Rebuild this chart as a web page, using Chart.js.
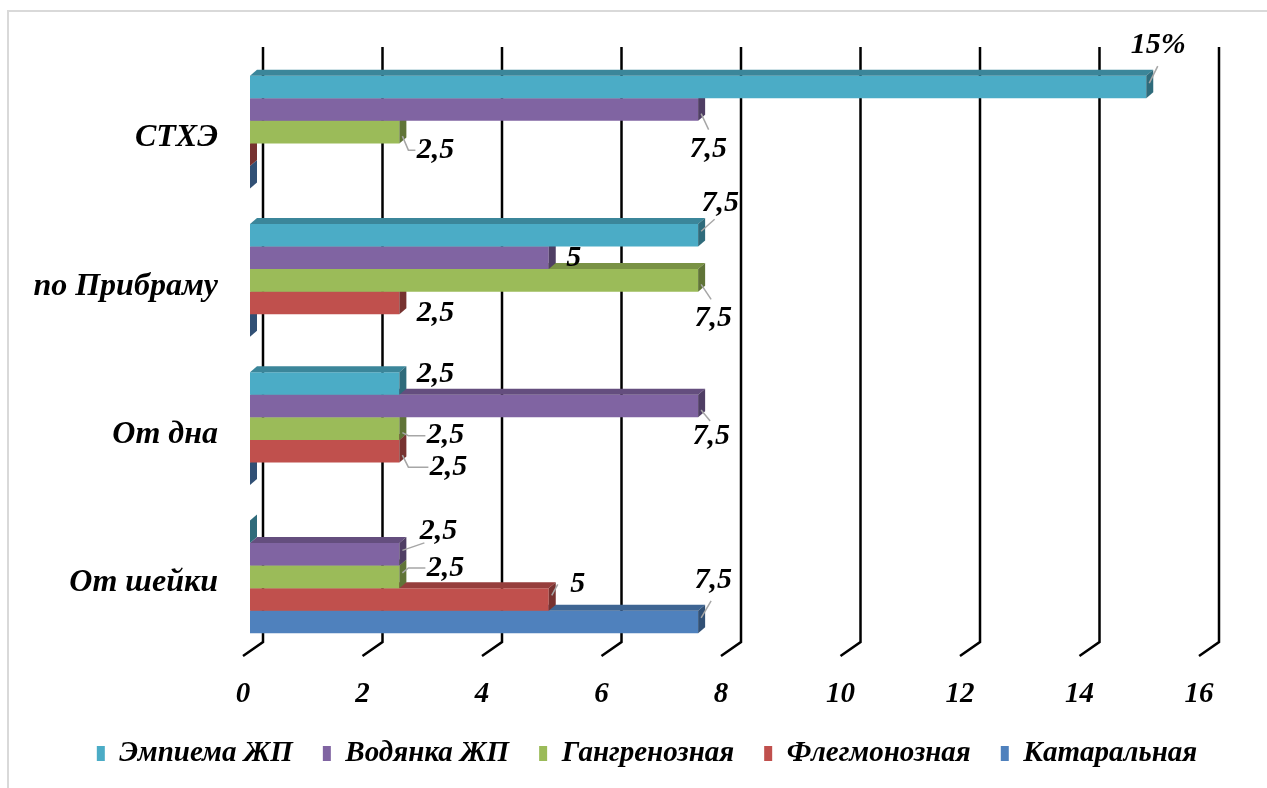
<!DOCTYPE html>
<html>
<head>
<meta charset="utf-8">
<script src="https://cdn.jsdelivr.net/npm/chart.js@4/dist/chart.umd.min.js"></script>
<style>
  html, body { margin: 0; padding: 0; background: #fff; }
  #wrap { width: 1267px; height: 788px; }
</style>
</head>
<body>
<div id="wrap"><canvas id="grafico"></canvas></div>
<script>
// datos del gráfico
var categorias = ["СТХЭ", "по Прибраму", "От дна", "От шейки"];
var series = ["Эмпиема ЖП", "Водянка ЖП", "Гангренозная", "Флегмонозная", "Катаральная"];
var empiema    = [15, 7.5, 2.5, 0];
var vodyanka   = [7.5, 5, 7.5, 2.5];
var gangrena   = [2.5, 7.5, 2.5, 2.5];
var flegmona   = [0, 2.5, 2.5, 5];
var kataralnaya = [0, 0, 0, 7.5];
var ticksX = [0, 2, 4, 6, 8, 10, 12, 14, 16];

var colores = ["#4BACC6", "#8064A2", "#9BBB59", "#C0504D", "#4F81BD"];

// donde va cada etiqueta respecto al final de la barra (dx, dy), null = sin etiqueta
var posEtiquetas = [
  [[9, -42], [19, -32], [33, -9], null],
  [[7, 40], [22, 0], [10, 30], [36, -23]],
  [[33, 18], [12, 38], [43, 7], [43, -9]],
  [null, [33, 10], [46, 16], [26, -15]],
  [null, null, null, [12, -42]]
];

var FUENTE = "'Liberation Serif', 'Times New Roman', serif";
var DX = 7, DY = 6; // profundidad de las barras

function oscurecer(hex, f) {
  var n = parseInt(hex.slice(1), 16);
  var r = Math.round(((n >> 16) & 255) * f);
  var g = Math.round(((n >> 8) & 255) * f);
  var b = Math.round((n & 255) * f);
  return "rgb(" + r + "," + g + "," + b + ")";
}

// marco gris y lineas de la rejilla con perspectiva
var fondo = {
  id: "fondo",
  afterLayout: function(chart) {
    // la leyenda va un poco a la derecha, como en el original
    chart.legend.left += 44;
    chart.legend.right += 44;
  },
  beforeDatasetsDraw: function(chart) {
    var ctx = chart.ctx, x = chart.scales.x, a = chart.chartArea;
    ctx.save();
    ctx.strokeStyle = "#d9d9d9";
    ctx.lineWidth = 2;
    ctx.beginPath();
    ctx.moveTo(8, 800); ctx.lineTo(8, 11); ctx.lineTo(1300, 11);
    ctx.stroke();
    ctx.strokeStyle = "#000";
    ctx.lineWidth = 2.5;
    ticksX.forEach(function(v) {
      var xf = x.getPixelForValue(v);
      ctx.beginPath();
      ctx.moveTo(xf + 13, a.top - 11);
      ctx.lineTo(xf + 13, a.bottom - 9);
      ctx.lineTo(xf - 7, a.bottom + 5);
      ctx.stroke();
    });
    ctx.restore();
  }
};

// caras de arriba y del costado de cada barra
var tresD = {
  id: "tresD",
  afterDatasetDraw: function(chart, args) {
    var ctx = chart.ctx, i = args.index;
    var meta = chart.getDatasetMeta(i);
    ctx.save();
    meta.data.forEach(function(bar) {
      var x0 = bar.base, x1 = bar.x;
      var top = bar.y - bar.height / 2, bot = bar.y + bar.height / 2;
      ctx.fillStyle = oscurecer(colores[i], 0.78);
      ctx.beginPath();
      ctx.moveTo(x0, top); ctx.lineTo(x1, top);
      ctx.lineTo(x1 + DX, top - DY); ctx.lineTo(x0 + DX, top - DY);
      ctx.closePath(); ctx.fill();
      ctx.fillStyle = oscurecer(colores[i], 0.62);
      ctx.beginPath();
      ctx.moveTo(x1, top); ctx.lineTo(x1 + DX, top - DY);
      ctx.lineTo(x1 + DX, bot - DY); ctx.lineTo(x1, bot);
      ctx.closePath(); ctx.fill();
    });
    ctx.restore();
  }
};

// etiquetas de valores
var etiquetas = {
  id: "etiquetas",
  afterDatasetsDraw: function(chart) {
    var ctx = chart.ctx;
    ctx.save();
    ctx.font = "italic bold 30px " + FUENTE;
    ctx.textAlign = "center";
    ctx.textBaseline = "middle";
    chart.data.datasets.forEach(function(ds, i) {
      var meta = chart.getDatasetMeta(i);
      meta.data.forEach(function(bar, j) {
        var p = posEtiquetas[i][j];
        if (!p) return;
        var xe = bar.x + 3, ye = bar.y;
        var lx = xe + p[0], ly = ye + p[1];
        if (Math.abs(p[1]) > 14 || p[0] > 36) {
          ctx.strokeStyle = "#a6a6a6";
          ctx.lineWidth = 1.5;
          ctx.beginPath();
          var sy = p[1] > 0 ? 1 : -1;
          if (Math.abs(p[1]) > 20) {
            ctx.moveTo(xe, ye + sy * 4);
            ctx.lineTo(xe + p[0] * 0.5 + 4, ye + p[1] * 0.5);
          } else {
            ctx.moveTo(xe, ye + sy * 4);
            ctx.lineTo(xe + 6, ly);
            ctx.lineTo(lx - 20, ly);
          }
          ctx.stroke();
        }
        var txt = String(ds.data[j]).replace(".", ",");
        if (i === 0 && j === 0) txt += "%";
        ctx.fillStyle = "#000";
        ctx.fillText(txt, lx, ly);
      });
    });
    ctx.restore();
  }
};

var datos = {
  labels: categorias,
  datasets: [empiema, vodyanka, gangrena, flegmona, kataralnaya].map(function(d, i) {
    return {
      label: series[i],
      data: d,
      backgroundColor: colores[i],
      borderWidth: 0,
      barPercentage: 1,
      categoryPercentage: 0.76
    };
  })
};

new Chart(document.getElementById("grafico"), {
  type: "bar",
  data: datos,
  plugins: [fondo, tresD, etiquetas],
  options: {
    indexAxis: "y",
    responsive: true,
    maintainAspectRatio: false,
    animation: false,
    layout: { padding: { top: 58, right: 61, left: 0, bottom: 10 } },
    scales: {
      x: {
        min: 0, max: 16,
        grid: { display: false, drawTicks: false },
        border: { display: false },
        ticks: {
          stepSize: 2,
          padding: 26,
          labelOffset: -7,
          color: "#000",
          font: { family: FUENTE, size: 29, style: "italic", weight: "bold" }
        },
        afterFit: function(s) { s.height = 58; }
      },
      y: {
        grid: { display: false, drawTicks: false },
        border: { display: false },
        ticks: {
          padding: 32,
          labelOffset: 6,
          color: "#000",
          font: { family: FUENTE, size: 32, style: "italic", weight: "bold" }
        },
        afterFit: function(s) { s.width = 250; }
      }
    },
    plugins: {
      legend: {
        position: "bottom",
        labels: {
          boxWidth: 8,
          boxHeight: 15,
          padding: 30,
          color: "#000",
          font: { family: FUENTE, size: 29, style: "italic", weight: "bold" }
        }
      },
      tooltip: { enabled: false }
    }
  }
});
</script>
</body>
</html>
